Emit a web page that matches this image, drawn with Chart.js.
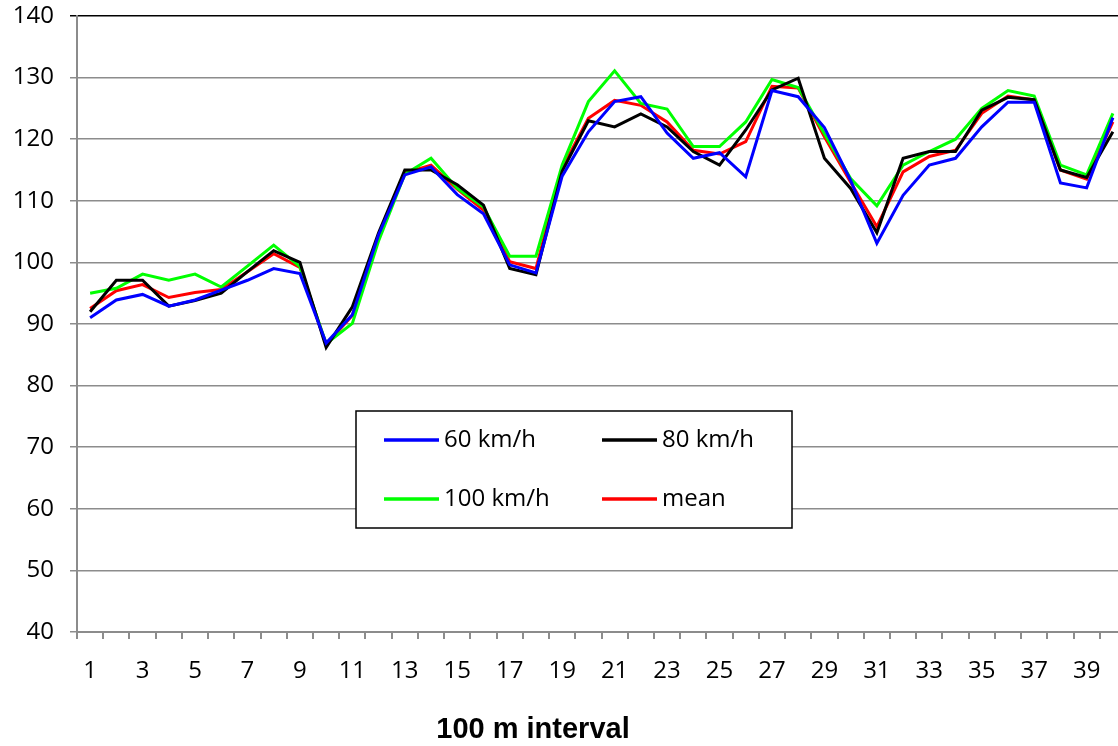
<!DOCTYPE html>
<html>
<head>
<meta charset="utf-8">
<script src="https://cdn.jsdelivr.net/npm/chart.js@4.4.1/dist/chart.umd.min.js"></script>
<style>
  html, body { margin: 0; padding: 0; background: #fff; overflow: hidden; }
  #wrap { width: 1126px; height: 746px; }
</style>
</head>
<body>
<div id="wrap"><canvas id="chart" width="1126" height="746"></canvas></div>
<script>
// interval numbers along the road
const intervals = [];
for (let i = 1; i <= 40; i++) intervals.push(String(i));

const speed60 = [91.0, 93.9, 94.8, 92.9, 93.9, 95.5, 97.1, 99.0, 98.2, 86.9,
  91.5, 104.5, 114.2, 115.5, 111.0, 107.9, 99.6, 98.3, 114.0, 121.2,
  126.1, 126.9, 121.0, 116.9, 117.8, 113.9, 127.9, 126.9, 121.9, 113.3,
  103.1, 110.9, 115.8, 116.9, 122.0, 126.0, 126.0, 112.9, 112.1, 123.5];

const speed80 = [92.0, 97.1, 97.1, 92.9, 93.8, 95.0, 98.5, 101.9, 100.0, 86.2,
  92.8, 104.8, 115.0, 115.0, 112.6, 109.3, 99.0, 98.0, 114.8, 123.0,
  122.0, 124.1, 122.0, 118.0, 115.8, 121.5, 128.0, 129.9, 116.9, 112.0,
  104.8, 116.9, 118.0, 118.0, 124.7, 126.8, 126.4, 115.0, 113.8, 121.2];

const speed100 = [95.0, 95.8, 98.1, 97.1, 98.1, 96.0, 99.4, 102.8, 99.3, 86.8,
  90.1, 103.5, 114.3, 116.9, 112.0, 109.0, 101.0, 101.0, 115.8, 126.1,
  131.1, 125.8, 124.9, 118.8, 118.8, 122.8, 129.7, 128.4, 120.9, 113.6,
  109.2, 115.8, 118.0, 120.0, 125.0, 127.9, 127.0, 115.8, 114.2, 124.2];

const meanValues = [92.5, 95.4, 96.4, 94.3, 95.1, 95.6, 98.5, 101.4, 99.2, 86.7,
  91.4, 104.3, 114.5, 115.8, 111.9, 108.5, 100.1, 99.0, 115.3, 123.4,
  126.3, 125.5, 122.8, 118.2, 117.6, 119.6, 128.6, 128.3, 120.4, 113.0,
  105.8, 114.7, 117.2, 118.2, 124.2, 127.0, 126.4, 115.0, 113.5, 122.8];

const seriesNames = ["60 km/h", "80 km/h", "100 km/h", "mean"];
const seriesColors = ["#0000ff", "#000000", "#00ff00", "#ff0000"];
const xTitle = "100 m interval";

const tickFont = { family: "'Open Sans', sans-serif", size: 24 };
const axisGray = "#8c8c8c";

// legend box sits inside the plot, like the spreadsheet one
const boxLegend = {
  id: "boxLegend",
  afterDatasetsDraw(c) {
    const ctx = c.ctx;
    const a = c.chartArea;
    const x0 = a.left + 279, y0 = a.top + 395, w = 436, h = 117;
    ctx.save();
    ctx.fillStyle = "#fff";
    ctx.fillRect(x0, y0, w, h);
    ctx.strokeStyle = "#000";
    ctx.lineWidth = 1.5;
    ctx.strokeRect(x0, y0, w, h);
    ctx.font = "24px 'Open Sans', sans-serif";
    ctx.textBaseline = "middle";
    c.data.datasets.forEach((ds, i) => {
      const col = i % 2, row = Math.floor(i / 2);
      const sx = x0 + 28 + col * 218;
      const sy = y0 + 29 + row * 59;
      ctx.strokeStyle = ds.borderColor;
      ctx.lineWidth = 3.5;
      ctx.beginPath();
      ctx.moveTo(sx, sy);
      ctx.lineTo(sx + 55, sy);
      ctx.stroke();
      ctx.fillStyle = "#000";
      ctx.fillText(ds.label, sx + 60, sy);
    });
    ctx.restore();
  }
};

// axis title is not centred on the plot in the original, so draw it here
const axisTitle = {
  id: "axisTitle",
  afterDraw(c) {
    const ctx = c.ctx;
    ctx.save();
    ctx.font = "bold 29px 'Liberation Sans', Arial, sans-serif";
    ctx.fillStyle = "#000";
    ctx.textAlign = "center";
    ctx.textBaseline = "middle";
    ctx.fillText(xTitle, c.chartArea.left + 456, c.height - 16);
    ctx.restore();
  }
};

new Chart(document.getElementById("chart"), {
  type: "line",
  data: {
    labels: intervals,
    datasets: [speed60, speed80, speed100, meanValues].map((vals, i) => ({
      label: seriesNames[i],
      data: vals,
      borderColor: seriesColors[i],
      backgroundColor: seriesColors[i],
      borderWidth: 3,
      pointRadius: 0,
      tension: 0,
      fill: false
    }))
  },
  options: {
    responsive: false,
    animation: false,
    devicePixelRatio: 1,
    layout: { padding: { top: 16, left: 0, right: 0, bottom: 0 } },
    plugins: {
      legend: { display: false },
      tooltip: { enabled: false }
    },
    scales: {
      x: {
        offset: true,
        afterFit(s) {
          s.height = 114;
          s.paddingLeft = 0;
          s.paddingRight = 0;
        },
        grid: {
          offset: true,
          drawOnChartArea: false,
          drawTicks: true,
          tickLength: 7,
          color: axisGray,
          lineWidth: 2
        },
        border: { color: axisGray, width: 2 },
        ticks: {
          autoSkip: false,
          maxRotation: 0,
          padding: 18,
          color: "#000",
          font: tickFont,
          callback: (v, i) => (i % 2 === 0 ? intervals[i] : "")
        }
      },
      y: {
        min: 40,
        max: 140,
        afterFit(s) {
          s.width = 77;
          s.paddingTop = 0;
          s.paddingBottom = 0;
        },
        grid: {
          color: (ctx) => (ctx.tick && ctx.tick.value === 140 ? "#000" : axisGray),
          lineWidth: 1.5,
          tickLength: 7
        },
        border: { color: axisGray, width: 2 },
        ticks: {
          stepSize: 10,
          padding: 16,
          color: "#000",
          font: tickFont
        }
      }
    }
  },
  plugins: [boxLegend, axisTitle]
});
</script>
</body>
</html>
